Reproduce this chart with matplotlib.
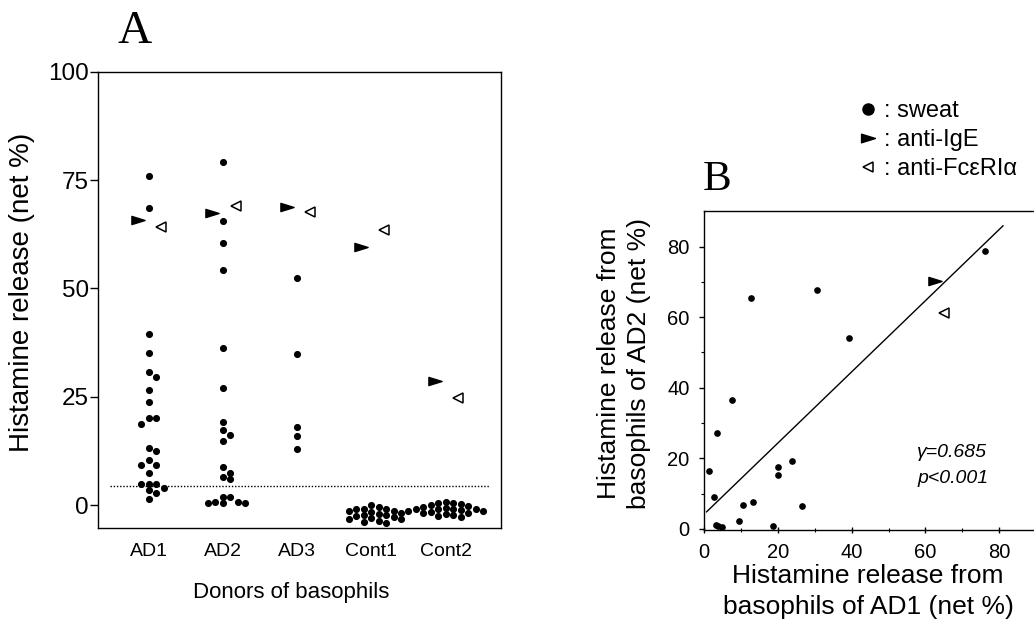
import numpy as np
import matplotlib.pyplot as plt
from matplotlib.path import Path
from matplotlib.lines import Line2D

plt.rcParams['font.family'] = ['Liberation Sans', 'DejaVu Sans']

# ---- panel A data (histamine release, net %)
donors = ['AD1', 'AD2', 'AD3', 'Cont1', 'Cont2']
sweat_ad1 = [76.0, 68.5, 39.4, 35.2, 30.8, 29.6, 26.5, 23.9, 20.1, 20.1, 18.8, 13.3,
             12.5, 10.4, 9.3, 9.3, 7.4, 4.8, 4.8, 4.8, 4.0, 3.4, 2.7, 1.5]
sweat_ad2 = [79.2, 65.6, 60.5, 54.3, 36.3, 27.1, 19.1, 17.4, 16.2, 14.8, 8.7, 7.5,
             6.6, 6.1, 1.9, 1.9, 0.8, 0.8, 0.6, 0.6, 0.4]
sweat_ad3 = [52.5, 34.8, 18.0, 15.9, 13.0]
sweat_cont1 = [0.0, -0.5, -0.8, -0.8, -1.0, -1.3, -1.3, -1.5, -1.8, -2.0, -2.3, -2.3,
               -2.5, -2.8, -3.0, -3.1, -3.3, -3.6, -3.8, -4.2]
sweat_cont2 = [0.8, 0.5, 0.4, 0.3, 0.0, -0.2, -0.4, -0.6, -0.8, -0.8, -0.9, -1.0,
               -1.2, -1.3, -1.3, -1.5, -1.7, -1.9, -2.1, -2.3, -2.6, -2.7]
anti_ige = [65.9, 67.5, 68.7, 59.6, 28.6]
anti_fc = [64.1, 69.1, 67.7, 63.5, 24.8]
cutoff = 4.5

# ---- panel B data (AD1 vs AD2)
b_ad1 = [1.4, 2.6, 3.6, 3.3, 3.9, 4.8, 7.5, 9.4, 10.5, 12.7, 13.4, 18.7, 20.1, 20.1,
         23.8, 26.5, 30.7, 39.4, 76.0]
b_ad2 = [16.5, 8.9, 27.2, 1.0, 0.7, 0.6, 36.5, 2.2, 6.8, 65.5, 7.7, 0.9, 17.6, 15.2,
         19.2, 6.4, 67.7, 54.1, 78.9]
b_ige = [62.6, 70.4]
b_fc = [65.0, 61.1]
fit_intercept = 4.1
fit_slope = 1.01
fit_range = [0.7, 81.0]
r_text = 'γ=0.685'
p_text = 'p<0.001'

W, H = 1034, 622

# right pointing, flat triangle (anti-IgE)
tri_right = Path([(-1, -0.62), (1, 0), (-1, 0.62), (-1, -0.62)],
                 [Path.MOVETO, Path.LINETO, Path.LINETO, Path.CLOSEPOLY])


def swarm(vals, px_x, px_y, step=7.5, diam=6.0):
    # simple beeswarm: push a dot sideways until it does not overlap
    placed = []
    offs = []
    for v in vals:
        y = v * px_y
        for k in [0, 1, -1, 2, -2, 3, -3, 4, -4, 5, -5]:
            xx = k * step
            if all((xx - a) ** 2 + (y - b) ** 2 >= diam ** 2 for a, b in placed):
                break
        placed.append((xx, y))
        offs.append(xx / px_x)
    return np.array(offs)


fig = plt.figure(figsize=(W / 100, H / 100), dpi=100)

# ================= panel A
axA = fig.add_axes([97.7 / W, 1 - 527.7 / H, (501 - 97.7) / W, (527.7 - 71.7) / H])
xlimA = (-0.685, 4.743)
ylimA = (-5.2, 100)
axA.set_xlim(xlimA)
axA.set_ylim(ylimA)
px_x = (501 - 97.7) / (xlimA[1] - xlimA[0])
px_y = (527.7 - 71.7) / (ylimA[1] - ylimA[0])

xpos = np.arange(len(donors))
sweat = [sweat_ad1, sweat_ad2, sweat_ad3, sweat_cont1, sweat_cont2]
for i, vals in enumerate(sweat):
    offs = swarm(vals, px_x, px_y)
    axA.plot(i + offs, vals, 'o', color='k', ms=4.1, ls='none')

axA.plot(xpos - 0.14, anti_ige, marker=tri_right, ms=9.5, ls='none', color='k')
axA.plot(xpos + 0.17, anti_fc, marker='<', ms=6.8, ls='none',
         mfc='white', mec='k', mew=1.1)
axA.hlines(cutoff, -0.52, 4.6, colors='k', linestyles=(0, (1, 1.3)), lw=1)

axA.set_yticks([0, 25, 50, 75, 100])
axA.set_xticks(xpos)
axA.set_xticklabels(donors)
axA.tick_params(axis='y', labelsize=17.5, length=5.5, width=1, pad=1)
axA.tick_params(axis='x', labelsize=14, length=0, pad=11)
for s in axA.spines.values():
    s.set_linewidth(1)

axA.set_ylabel('Histamine release (net %)', fontsize=20)
axA.yaxis.set_label_coords(-0.188, 0.515)
axA.yaxis.label.set_verticalalignment('center')
axA.set_xlabel('Donors of basophils', fontsize=16)
axA.xaxis.set_label_coords(0.481, -0.143)
axA.xaxis.label.set_verticalalignment('center')

# ================= panel B
axB = fig.add_axes([704 / W, 1 - 529.5 / H, 330 / W, (529.5 - 210.7) / H])
axB.set_xlim(0, 89.4)
axB.set_ylim(-0.2, 90.2)
axB.plot(b_ad1, b_ad2, 'o', color='k', ms=3.8, ls='none')
axB.plot(b_ige[0], b_ige[1], marker=tri_right, ms=9.5, ls='none', color='k')
axB.plot(b_fc[0], b_fc[1], marker='<', ms=6.8, ls='none', mfc='white', mec='k', mew=1.1)
fx = np.array(fit_range)
axB.plot(fx, fit_intercept + fit_slope * fx, color='k', lw=1)

axB.set_xticks([0, 20, 40, 60, 80])
axB.set_xticks([10, 30, 50, 70], minor=True)
axB.set_yticks([0, 20, 40, 60, 80])
axB.set_yticks([10, 30, 50, 70], minor=True)
axB.tick_params(axis='x', which='major', direction='inout', length=5, width=1,
                labelsize=14.5, pad=7)
axB.tick_params(axis='x', which='minor', direction='inout', length=3, width=0.8)
axB.tick_params(axis='y', which='major', length=3.4, width=1, labelsize=14.5, pad=7)
axB.tick_params(axis='y', which='minor', length=2.5, width=0.8)
axB.spines['right'].set_visible(False)
for s in ['left', 'top', 'bottom']:
    axB.spines[s].set_linewidth(1)

axB.text(57.7, 21.5, r_text, fontsize=14, style='italic', va='center', ha='left')
axB.text(57.7, 14.4, p_text, fontsize=14, style='italic', va='center', ha='left')

axB.set_ylabel('Histamine release from\nbasophils of AD2 (net %)', fontsize=19,
               linespacing=1.35)
axB.yaxis.set_label_coords(-0.2424, 0.522)
axB.yaxis.label.set_verticalalignment('center')
axB.set_xlabel('Histamine release from\nbasophils of AD1 (net %)', fontsize=19,
               linespacing=1.35)
axB.xaxis.set_label_coords(0.497, -0.195)
axB.xaxis.label.set_verticalalignment('center')

# ================= panel letters and key
fig.text(135 / W, 1 - 43 / H, 'A', family='Liberation Serif', fontsize=34,
         ha='center', va='baseline')
fig.text(717 / W, 1 - 190 / H, 'B', family='Liberation Serif', fontsize=31,
         ha='center', va='baseline')

handles = [Line2D([], [], marker='o', ls='none', color='k', ms=8),
           Line2D([], [], marker=tri_right, ls='none', color='k', ms=10),
           Line2D([], [], marker='<', ls='none', mfc='white', mec='k', mew=1.1, ms=7)]
labels = [': sweat', ': anti-IgE', ': anti-FcεRIα']
fig.legend(handles, labels, loc='upper left', bbox_to_anchor=(859 / W, 1 - 100 / H),
           frameon=False, fontsize=17, handlelength=0.8, handletextpad=0.25,
           labelspacing=0.3, borderpad=0, borderaxespad=0)

fig.savefig('out.png', dpi=100)
